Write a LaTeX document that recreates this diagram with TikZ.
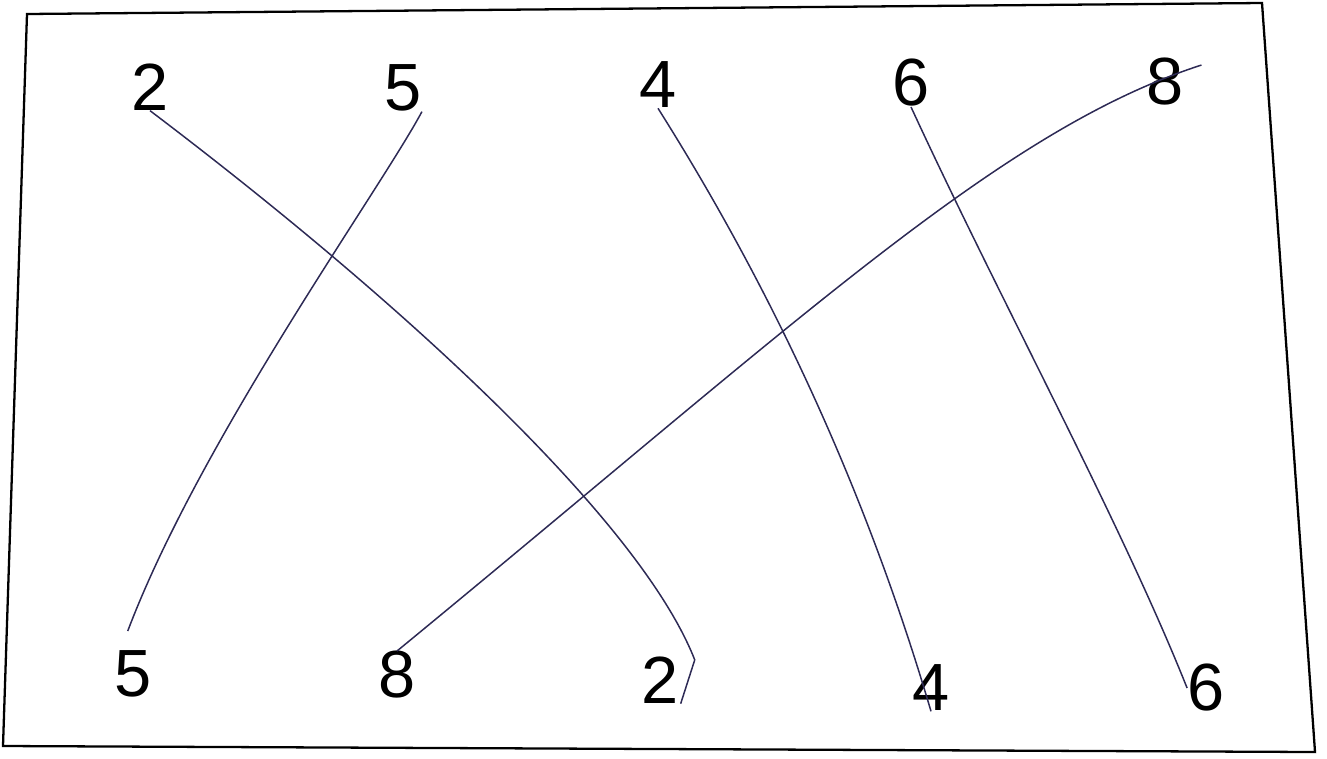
\documentclass[tikz,border=0pt]{standalone}
\usepackage{fontspec}
\setmainfont{Liberation Sans}
\usepackage{xcolor}
\usepackage{tikz}
\usetikzlibrary{calc}
\definecolor{pen}{RGB}{45,42,85}

\begin{document}
\begin{tikzpicture}[
  x=0.02cm, y=-0.02cm,
  num/.style={inner sep=0pt, font=\fontsize{38}{42}\selectfont},
  link/.style={draw=pen, line width=0.85pt}]
\useasboundingbox (0,0) rectangle (1327,758);
\draw[line width=1.3pt] (27,14) -- (1262,3) -- (1315,752) -- (3,746) -- cycle;
% top row
\node[num] (t2) at (150,87) {2};
\node[num] (t5) at (403,88) {5};
\node[num] (t4) at (658,85) {4};
\node[num] (t6) at (911,83) {6};
\node[num] (t8) at (1165,82) {8};
% bottom row
\node[num] (b5) at (133,674) {5};
\node[num] (b8) at (397,675) {8};
\node[num] (b2) at (660,680) {2};
\node[num] (b4) at (931,688) {4};
\node[num] (b6) at (1206,688) {6};
% matching lines
\draw[link] (t2.south) .. controls (400,300) and (640,520) .. ([xshift=9pt,yshift=-2pt]b2.north east)
  -- ([xshift=1pt]b2.south east);
\draw[link] (t5.south east) .. controls (380,190) and (200,440) .. ([shift={(-3pt,11pt)}]b5.north);
\draw[link] (t4.south) .. controls (760,270) and (860,470) .. (b4.south);
\draw[link] (t6.south) .. controls (1000,300) and (1120,520) .. (b6.west);
\draw[link] ([shift={(10pt,-4pt)}]t8.north east) .. controls (1000,130) and (800,320) .. (b8.north);
\end{tikzpicture}
\end{document}
